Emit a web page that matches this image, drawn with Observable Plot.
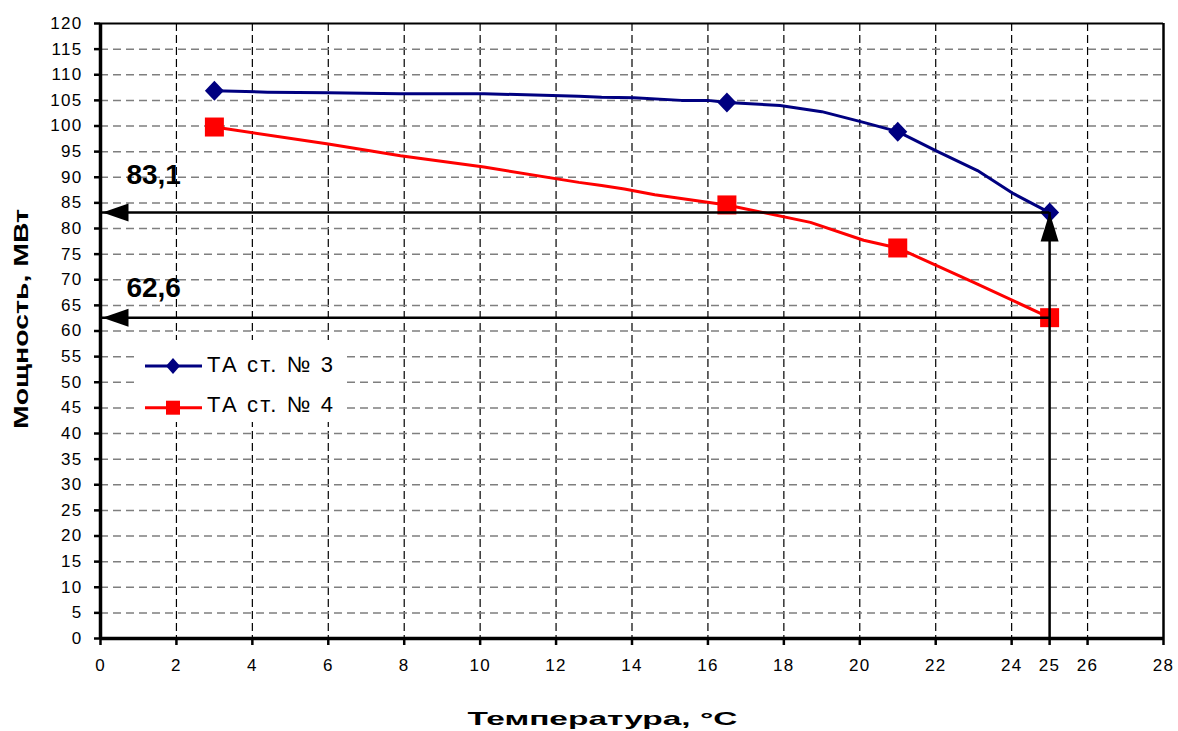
<!DOCTYPE html>
<html><head><meta charset="utf-8">
<script src="https://cdn.jsdelivr.net/npm/d3@7"></script>
<script src="https://cdn.jsdelivr.net/npm/@observablehq/plot@0.6"></script>
<style>
body{margin:0;background:#fff;font-family:"Liberation Sans",Arial,sans-serif;}
#wrap{position:relative;width:1178px;height:731px;overflow:hidden;}
#legend{position:absolute;left:137px;top:340px;}
#chart g[aria-label="y-axis tick label"] text{letter-spacing:1.3px;font-size:17px}
#chart g[aria-label="x-axis tick label"] text{letter-spacing:1.3px;font-size:17px}
#legend text{letter-spacing:2.2px}
</style></head><body>
<div id="wrap"><div id="chart"></div><div id="legend"></div></div>
<script>
// ---- data ----
const seriesNames = ["ТА ст. № 3", "ТА ст. № 4"];
const seriesColors = ["#000080", "#FF0000"];
// smoothed curves
const ta3CurveT = [3, 4.4, 6, 7.9, 10.1, 12.6, 13.2, 14.05, 15.3, 16, 16.5, 17.9, 19, 20.1, 21, 22, 23.1, 24.05, 25];
const ta3CurveP = [106.9, 106.6, 106.5, 106.3, 106.3, 105.8, 105.6, 105.5, 105.0, 105.0, 104.6, 104.0, 102.8, 100.7, 98.9, 95.2, 91.3, 86.8, 83.1];
const ta4CurveT = [3, 6, 7.9, 10.1, 12.6, 13.2, 13.8, 14.6, 16.5, 18.7, 20.1, 21, 23, 25];
const ta4CurveP = [99.8, 96.5, 94.2, 92.0, 89.0, 88.4, 87.7, 86.6, 84.6, 81.2, 77.7, 76.2, 69.5, 62.6];
// marker points
const markerT = [3, 16.5, 21, 25];
const ta3MarkP = [106.9, 104.6, 98.9, 83.1];
const ta4MarkP = [99.8, 84.6, 76.2, 62.6];
// readings at 25 °C
const readingT = 25;
const readingP = [83.1, 62.6];
const readingLabels = ["83,1", "62,6"];
// axes
const xTicks = [0, 2, 4, 6, 8, 10, 12, 14, 16, 18, 20, 22, 24, 25, 26, 28];
const xGrid = [2, 4, 6, 8, 10, 12, 14, 16, 18, 20, 22, 24, 26];
const yTicks = [0, 5, 10, 15, 20, 25, 30, 35, 40, 45, 50, 55, 60, 65, 70, 75, 80, 85, 90, 95, 100, 105, 110, 115, 120];
const yGrid = [5, 10, 15, 20, 25, 30, 35, 40, 45, 50, 55, 60, 65, 70, 75, 80, 85, 90, 95, 100, 105, 110, 115];
const xLabel = "Температура, °C";
const yLabel = "Мощность, МВт";

// ---- build ----
const toRows = (ts, ps) => ts.map((t, i) => ({t, p: ps[i]}));
const ta3Curve = toRows(ta3CurveT, ta3CurveP);
const ta4Curve = toRows(ta4CurveT, ta4CurveP);
const ta3Marks = toRows(markerT, ta3MarkP);
const ta4Marks = toRows(markerT, ta4MarkP);

const diamond = {draw(c){c.moveTo(0,-10);c.lineTo(9.5,0);c.lineTo(0,10);c.lineTo(-9.5,0);c.closePath();}};
const square = {draw(c){c.rect(-9.5,-9.5,19,19);}};
const leftHead = {draw(c){c.moveTo(2,0);c.lineTo(28,-9);c.lineTo(28,9);c.closePath();}};
const upHead = {draw(c){c.moveTo(0,0);c.lineTo(-9,29);c.lineTo(9,29);c.closePath();}};

const chart = Plot.plot({
  width: 1178, height: 731,
  marginLeft: 100, marginRight: 15, marginTop: 23, marginBottom: 93,
  x: {domain: [0, 28]},
  y: {domain: [0, 120]},
  style: {fontFamily: "'Liberation Sans', Arial, sans-serif", fontSize: "16px", background: "transparent", color: "#000"},
  marks: [
    Plot.gridX(xGrid, {stroke: "#000", strokeOpacity: 1, strokeDasharray: "8,4", strokeWidth: 1.2}),
    Plot.gridY(yGrid, {stroke: "#7f7f7f", strokeOpacity: 1, strokeDasharray: "8,5", strokeWidth: 1.5}),
    Plot.ruleY([120], {stroke: "#000", strokeWidth: 2}),
    Plot.ruleX([28], {stroke: "#000", strokeWidth: 2.5}),
    Plot.axisY(yTicks, {tickSize: 6, tickPadding: 12, strokeWidth: 2.5, label: null, fontSize: 17}),
    Plot.axisX(xTicks, {tickSize: 7, tickPadding: 13, strokeWidth: 2.5, label: null, fontSize: 17}),
    Plot.ruleX([0], {stroke: "#000", strokeWidth: 3.5}),
    Plot.ruleY([0], {stroke: "#000", strokeWidth: 3.5}),
    Plot.line(ta3Curve, {x: "t", y: "p", stroke: seriesColors[0], strokeWidth: 3}),
    Plot.line(ta4Curve, {x: "t", y: "p", stroke: seriesColors[1], strokeWidth: 3}),
    Plot.dot(ta3Marks, {x: "t", y: "p", symbol: diamond, fill: seriesColors[0], stroke: "none"}),
    Plot.dot(ta4Marks, {x: "t", y: "p", symbol: square, fill: seriesColors[1], stroke: "none"}),
    Plot.ruleY(readingP, {x1: 0, x2: readingT, stroke: "#000", strokeWidth: 2.5}),
    Plot.ruleX([readingT], {y1: 0, y2: readingP[0], stroke: "#000", strokeWidth: 2.5}),
    Plot.dot(readingP, {x: () => 0, y: d => d, symbol: leftHead, fill: "#000", stroke: "none"}),
    Plot.dot([readingP[0]], {x: () => readingT, y: d => d, symbol: upHead, fill: "#000", stroke: "none"}),
    Plot.text([0], {x: () => 1.4, y: () => readingP[0], text: () => readingLabels[0], dy: -37.5, fontSize: 28, fontWeight: "bold"}),
    Plot.text([1], {x: () => 1.4, y: () => readingP[1], text: () => readingLabels[1], dy: -30, fontSize: 28, fontWeight: "bold"}),
    Plot.text([yLabel], {frameAnchor: "left", textAnchor: "middle", lineAnchor: "middle", dx: -79.5, dy: -12, rotate: -90, fontSize: 21, fontWeight: "bold"}),
    Plot.text([xLabel], {frameAnchor: "bottom", textAnchor: "middle", lineAnchor: "middle", dx: -29.5, dy: 80, fontSize: 19, fontWeight: "bold"})
  ]
});
document.getElementById("chart").appendChild(chart);
d3.select(chart).selectAll("text").filter(function(){ return this.textContent === yLabel; })
  .attr("textLength", 220).attr("lengthAdjust", "spacingAndGlyphs");
d3.select(chart).selectAll("text").filter(function(){ return this.textContent === xLabel; })
  .attr("textLength", 270).attr("lengthAdjust", "spacingAndGlyphs");

// legend
const lg = d3.select("#legend").append("svg").attr("width", 208).attr("height", 82);
lg.append("rect").attr("width", 208).attr("height", 82).attr("fill", "#fff");
const rows = [{y: 26, ty: 31.7, sym: "diamond"}, {y: 67.7, ty: 71.7, sym: "square"}];
rows.forEach((r, i) => {
  lg.append("line").attr("x1", 8).attr("x2", 65).attr("y1", r.y).attr("y2", r.y)
    .attr("stroke", seriesColors[i]).attr("stroke-width", 3);
  if (r.sym === "diamond") {
    lg.append("path").attr("d", `M36,${r.y-8}L43,${r.y}L36,${r.y+8}L29,${r.y}Z`).attr("fill", seriesColors[i]);
  } else {
    lg.append("rect").attr("x", 29).attr("y", r.y-7).attr("width", 14).attr("height", 14).attr("fill", seriesColors[i]);
  }
  lg.append("text").attr("x", 70).attr("y", r.ty).attr("font-size", 22)
    .attr("font-family", "'Liberation Sans', Arial, sans-serif").text(seriesNames[i]);
});
</script>
</body></html>
